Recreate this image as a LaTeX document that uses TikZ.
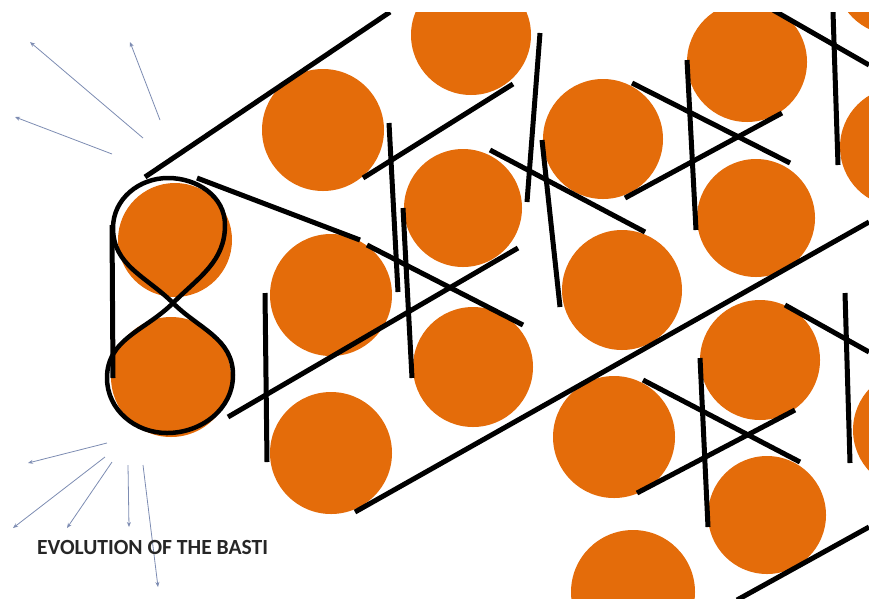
\documentclass[tikz,border=0pt]{standalone}
\usepackage{fontspec}
\setsansfont{Carlito}
\usepackage{tikz}
\usetikzlibrary{arrows.meta}
\definecolor{hutorange}{RGB}{228,108,10}
\definecolor{raygray}{RGB}{125,140,178}
\tikzset{
  hut/.style={fill=hutorange},
  wall/.style={draw=black, line width=5pt},
  eightline/.style={draw=black, line width=4.5pt},
  ray/.style={draw=raygray, line width=0.8pt, -{Stealth[length=5pt,width=4pt]}},
  caption/.style={font=\sffamily\bfseries\fontsize{21.6}{24}\selectfont,
                  text=black!85, inner sep=0pt, anchor=west},
}

\begin{document}
\begin{tikzpicture}[x=1pt,y=-1pt]
  \useasboundingbox (0,0) rectangle (869,598);
  \begin{scope}
    \clip (0,12) rectangle (869,598);
    %% huts
    \foreach \cx/\cy/\r in {471/35/60, 323/130/61, 463/208/59, 603/139/60,
        747/62/60, 756/218/59, 900/147/60, 895/-25/60, 331/295/61,
        622/290/60, 473/367/60, 760/360/60, 614/437/61, 767/515/59,
        633/592/62, 913/430/60, 331/453/61, 175/240/57, 171/377/60}
      \fill[hut] (\cx,\cy) circle (\r pt);
    %% the first cluster, an eight
    \coordinate (knot) at (173,303);
    \draw[eightline] (knot) to[out=45,in=270] (225,225)
        to[out=90,in=0] (168,178) to[out=180,in=90] (113,228)
        to[out=270,in=135] (knot) to[out=-45,in=90] (233,375)
        to[out=270,in=0] (167,433) to[out=180,in=270] (107,378)
        to[out=90,in=225] (knot);
    %% lanes
    \foreach \ax/\ay/\bx/\by in {145/177/390/12, 197/178/360/240,
        367/245/523/325, 228/417/518/248, 112/225/113/378,
        389/123/398/292, 403/208/412/378, 265/293/267/462,
        363/178/513/84, 540/33/527/202, 542/140/560/307,
        490/150/645/232, 632/83/790/163, 625/198/782/113,
        687/60/696/230, 833/12/838/165, 773/10/869/65,
        355/512/869/222, 700/358/708/527, 643/380/800/462,
        637/493/795/410, 785/305/869/352, 845/293/850/463,
        737/600/869/527}
      \draw[wall] (\ax,\ay) -- (\bx,\by);
  \end{scope}
  %% growth rays
  \foreach \ax/\ay/\bx/\by in {143/138/30/42, 160/120/130/42,
      112/154/15/117, 107/443/28/463, 105/457/13/528, 112/462/67/528,
      128/465/129/527, 143/465/158/587}
    \draw[ray] (\ax,\ay) -- (\bx,\by);
  \node[caption] (title) at (37,547) {EVOLUTION OF THE BASTI};
\end{tikzpicture}
\end{document}
